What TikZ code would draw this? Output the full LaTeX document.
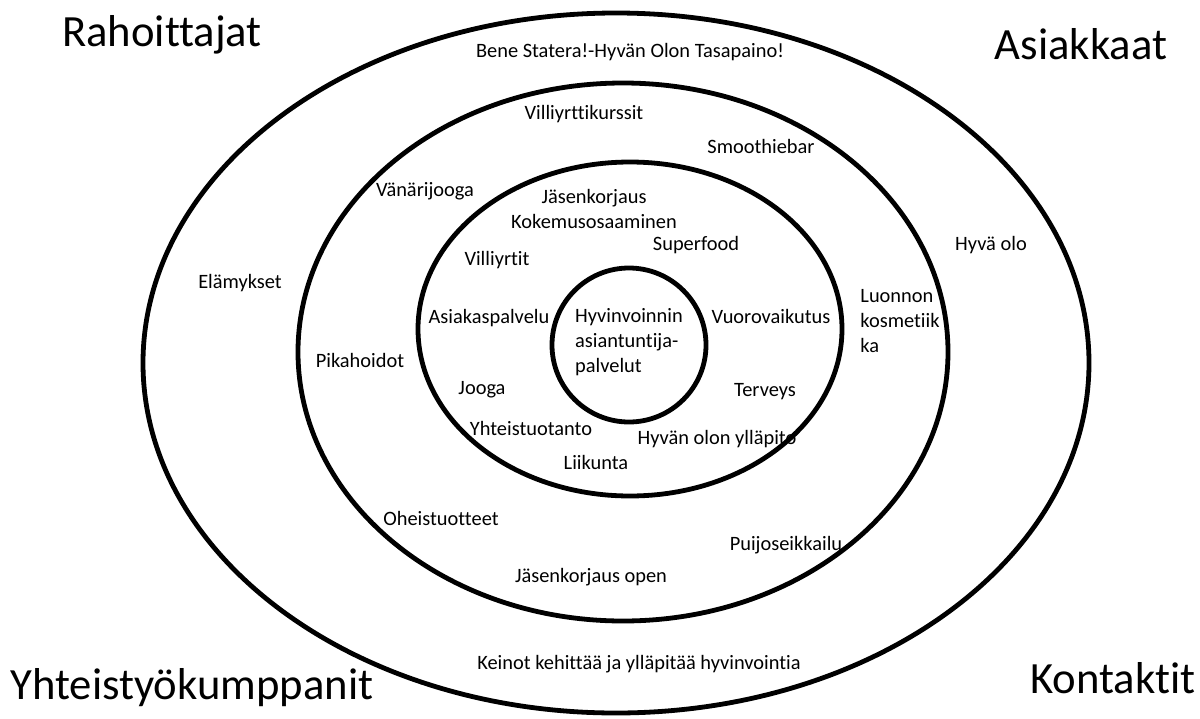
\documentclass[tikz,border=0pt]{standalone}
\usepackage{fontspec}
\setmainfont[Ligatures=NoCommon]{Carlito}
\usepackage{tikz}
\usetikzlibrary{positioning}

\begin{document}
\begin{tikzpicture}[
    x=0.75pt, y=-0.75pt,
    ring/.style={draw, line width=3.6pt},
    lbl/.style={inner sep=0pt, font=\fontsize{15.3}{18.8}\selectfont},
    corner/.style={inner sep=0pt, font=\fontsize{33.5}{38}\selectfont}
]
    \useasboundingbox (0,0) rectangle (1200,718);

    % rings
    \draw[ring] (616,363) ellipse [x radius=473, y radius=350];
    \draw[ring] (623,352) ellipse [x radius=325, y radius=269];
    \draw[ring] (630,329) ellipse [x radius=212, y radius=167];
    \draw[ring] (629,345) ellipse [x radius=77, y radius=77];

    % corners
    \node[corner] (funders) at (162,35) {Rahoittajat};
    \node[corner] (customers) at (1081,44) {Asiakkaat};
    \node[corner] (partners) at (192,688) {Yhteistyökumppanit};
    \node[corner] (contacts) at (1113,678) {Kontaktit};

    % outer ring
    \node[lbl] (motto) at (630,52) {Bene Statera!-Hyvän Olon Tasapaino!};
    \node[lbl] (experiences) at (240,283) {Elämykset};
    \node[lbl] (wellbeing) at (991,245) {Hyvä olo};
    \node[lbl] (means) at (639,664) {Keinot kehittää ja ylläpitää hyvinvointia};

    % second ring
    \node[lbl] (herbcourse) at (584,114) {Villiyrttikurssit};
    \node[lbl] (smoothie) at (761,146) {Smoothiebar};
    \node[lbl] (vanari) at (425,191) {Vänärijooga};
    \node[lbl, align=left] (cosmetics) at (900,321) {Luonnon\\kosmetiik\\ka};
    \node[lbl] (quick) at (360,360) {Pikahoidot};
    \node[lbl] (sideprod) at (441,518) {Oheistuotteet};
    \node[lbl] (puijo) at (786,545) {Puijoseikkailu};
    \node[lbl] (jkopen) at (591,577) {Jäsenkorjaus open};

    % third ring
    \node[lbl, align=center] (jk) at (594,209) {Jäsenkorjaus\\Kokemusosaaminen};
    \node[lbl] (superfood) at (696,245) {Superfood};
    \node[lbl] (herbs) at (497,260) {Villiyrtit};
    \node[lbl] (service) at (489,318) {Asiakaspalvelu};
    \node[lbl] (interaction) at (771,316) {Vuorovaikutus};
    \node[lbl] (yoga) at (482,390) {Jooga};
    \node[lbl] (health) at (765,392) {Terveys};
    \node[lbl] (coprod) at (531,428) {Yhteistuotanto};
    \node[lbl] (upkeep) at (717,439) {Hyvän olon ylläpito};
    \node[lbl] (exercise) at (596,462) {Liikunta};

    % core
    \node[lbl, align=left] (core) at (629,342) {Hyvinvoinnin\\asiantuntija-\\palvelut};
\end{tikzpicture}
\end{document}
